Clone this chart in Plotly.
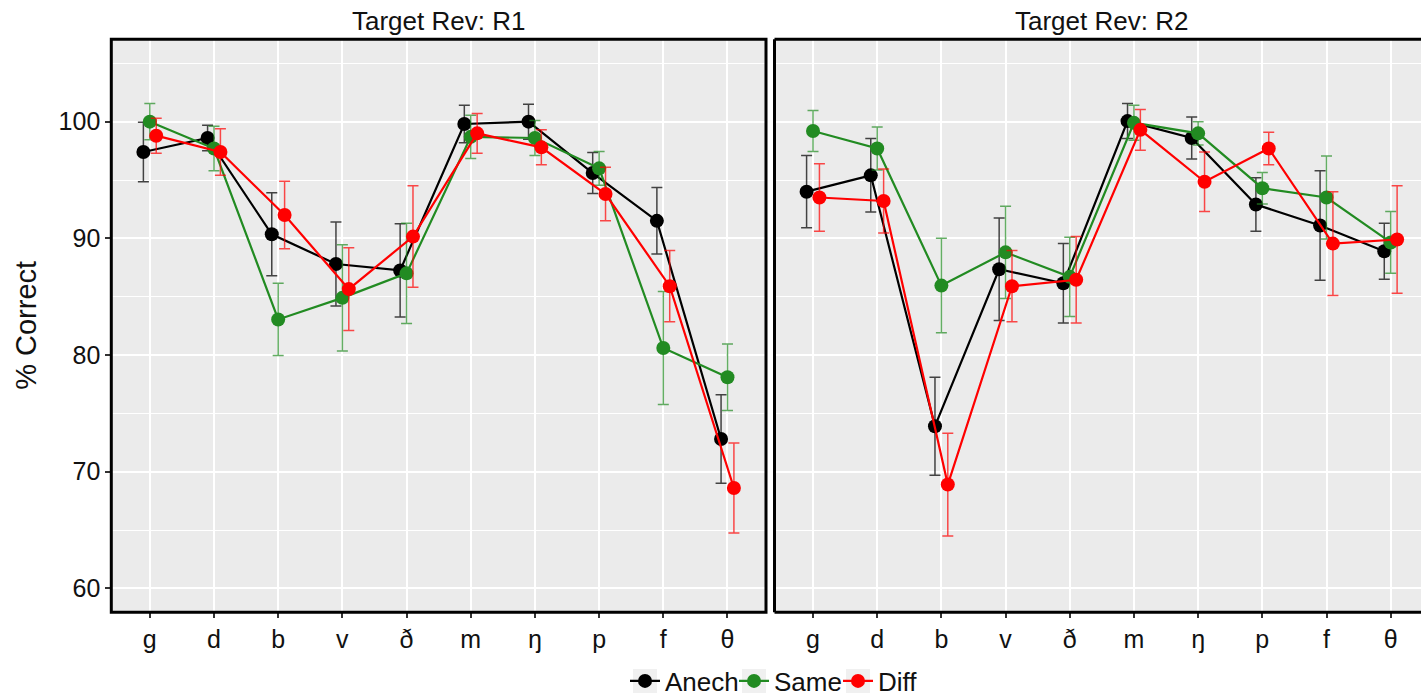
import numpy as np
import plotly.graph_objects as go

# ---------------- data ----------------
categories = ['g', 'd', 'b', 'v', 'ð', 'm', 'ŋ', 'p', 'f', 'θ']
panels = ['R1', 'R2']
series_names = ['Anech', 'Same', 'Diff']

# Target Rev: R1
r1_anech = [97.4, 98.6, 90.35, 87.8, 87.25, 99.8, 100.0, 95.6, 91.5, 72.8]
r1_anech_se = [2.55, 1.1, 3.55, 3.6, 4.0, 1.6, 1.5, 1.75, 2.85, 3.8]
r1_same = [100.0, 97.7, 83.05, 84.9, 87.0, 98.7, 98.6, 96.0, 80.6, 78.1]
r1_same_se = [1.55, 1.9, 3.1, 4.55, 4.3, 1.85, 1.5, 1.45, 4.85, 2.85]
r1_diff = [98.8, 97.4, 92.0, 85.65, 90.15, 99.0, 97.8, 93.8, 85.9, 68.6]
r1_diff_se = [1.5, 2.0, 2.9, 3.55, 4.35, 1.7, 1.5, 2.3, 3.05, 3.85]

# Target Rev: R2
r2_anech = [94.0, 95.4, 73.9, 87.35, 86.15, 100.05, 98.6, 92.9, 91.1, 88.9]
r2_anech_se = [3.1, 3.15, 4.2, 4.4, 3.4, 1.5, 1.8, 2.3, 4.7, 2.4]
r2_same = [99.2, 97.7, 85.95, 88.8, 86.7, 99.9, 99.0, 94.3, 93.5, 89.65]
r2_same_se = [1.75, 1.85, 4.05, 3.95, 3.4, 1.5, 1.0, 1.35, 3.55, 2.65]
r2_diff = [93.5, 93.2, 68.9, 85.9, 86.45, 99.3, 94.85, 97.7, 89.55, 89.9]
r2_diff_se = [2.9, 2.75, 4.4, 3.05, 3.7, 1.75, 2.55, 1.4, 4.45, 4.6]

y_ticks = [60, 70, 80, 90, 100]

# ---------------- style ----------------
W, H = 1421, 698
FONT = 'Liberation Sans, Arial, Helvetica, sans-serif'
colors = {'Anech': '#000000', 'Same': '#228B22', 'Diff': '#FF0000'}
err_colors = {'Anech': 'rgba(0,0,0,0.72)', 'Same': 'rgba(34,139,34,0.7)',
              'Diff': 'rgba(255,0,0,0.7)'}
dodge = {'Anech': -0.1, 'Same': 0.0, 'Diff': 0.1}

data = {
    'R1': {'Anech': (r1_anech, r1_anech_se), 'Same': (r1_same, r1_same_se),
           'Diff': (r1_diff, r1_diff_se)},
    'R2': {'Anech': (r2_anech, r2_anech_se), 'Same': (r2_same, r2_same_se),
           'Diff': (r2_diff, r2_diff_se)},
}

def px_x(p):
    return p / W

def px_y(p):
    return 1 - p / H

# panel geometry (pixels)
left_x0, left_x1 = 111.3, 766.0
unit = (left_x1 - left_x0) / 10.2
right_x0 = 774.5
right_end = 0.4 + (W - right_x0) / unit
y_top, y_bot = 39.3, 612.3
y_range = [57.95, 107.06]

fig = go.Figure()

pos = np.arange(1, len(categories) + 1)
legend_ids = {'Anech': 'legend', 'Same': 'legend2', 'Diff': 'legend3'}

for pi, panel in enumerate(panels):
    xa = 'x' if pi == 0 else 'x2'
    ya = 'y' if pi == 0 else 'y2'
    for s in series_names:
        vals, se = data[panel][s]
        fig.add_trace(go.Scatter(
            x=pos + dodge[s], y=vals, xaxis=xa, yaxis=ya,
            mode='lines+markers', name=s,
            line=dict(color=colors[s], width=2.2),
            marker=dict(color=colors[s], size=14, line=dict(width=0)),
            error_y=dict(type='data', array=se, visible=True,
                         color=err_colors[s], thickness=1.5, width=5.5),
            showlegend=(pi == 0), legend=legend_ids[s],
        ))

axis_common = dict(
    showgrid=True, gridcolor='white', gridwidth=1.5, zeroline=False,
    showline=False, ticklen=5, tickwidth=1.5, automargin=False,
    tickcolor='#333333', tickfont=dict(family=FONT, size=25, color='#111111'),
    fixedrange=True,
)
minor_grid = dict(tickmode='array', tickvals=[65, 75, 85, 95, 105],
                  showgrid=True, gridcolor='white', gridwidth=0.8, ticks='')

fig.update_layout(
    width=W, height=H,
    margin=dict(l=0, r=0, t=0, b=0, autoexpand=False),
    paper_bgcolor='white', plot_bgcolor='#EBEBEB',
    font=dict(family=FONT, color='#111111'),
    xaxis=dict(domain=[px_x(left_x0), px_x(left_x1)], range=[0.4, 10.6],
               tickmode='array', tickvals=list(pos), ticktext=categories,
               anchor='y', ticks='outside', **axis_common),
    xaxis2=dict(domain=[px_x(right_x0), 1.0], range=[0.4, right_end],
                tickmode='array', tickvals=list(pos), ticktext=categories,
                anchor='y2', ticks='outside', **axis_common),
    yaxis=dict(domain=[px_y(y_bot), px_y(y_top)], range=y_range,
               tickmode='array', tickvals=y_ticks,
               ticktext=[str(v) for v in y_ticks], anchor='x',
               ticks='outside', minor=minor_grid, **axis_common),
    yaxis2=dict(domain=[px_y(y_bot), px_y(y_top)], range=y_range,
                tickmode='array', tickvals=y_ticks, showticklabels=False,
                anchor='x2', ticks='', minor=minor_grid, **axis_common),
    showlegend=True,
)

# legends (one per series, laid out horizontally at bottom)
legend_sym_centers = {'Anech': 645, 'Same': 754, 'Diff': 858}
legend_y = 681
for s in series_names:
    key = legend_ids[s]
    fig.update_layout(**{key: dict(
        orientation='h', xref='container', yref='container',
        x=px_x(legend_sym_centers[s] - 20), xanchor='left',
        y=px_y(legend_y), yanchor='middle', bgcolor='rgba(0,0,0,0)',
        font=dict(family=FONT, size=26, color='#111111'),
        itemclick=False, itemdoubleclick=False,
    )})
    # grey key background
    c = legend_sym_centers[s]
    fig.add_shape(type='rect', xref='paper', yref='paper',
                  x0=px_x(c - 12), x1=px_x(c + 12),
                  y0=px_y(legend_y + 12), y1=px_y(legend_y - 12),
                  fillcolor='#F0F0F0', line=dict(width=0), layer='below')

# panel borders
fig.add_shape(type='rect', xref='x domain', yref='y domain', x0=0, x1=1,
              y0=0, y1=1, line=dict(color='black', width=3), layer='above')
for (x0, y0, x1, y1) in [(0, 0, 0, 1), (0, 0, 1, 0), (0, 1, 1, 1)]:
    fig.add_shape(type='line', xref='x2 domain', yref='y2 domain',
                  x0=x0, y0=y0, x1=x1, y1=y1,
                  line=dict(color='black', width=3), layer='above')

# strip titles
strip_centers = {'R1': (left_x0 + left_x1) / 2,
                 'R2': right_x0 + 10.2 * unit / 2}
for panel in panels:
    fig.add_annotation(text=f'Target Rev: {panel}', xref='paper', yref='paper',
                       x=px_x(strip_centers[panel]), y=px_y(21),
                       xanchor='center', yanchor='middle', showarrow=False,
                       font=dict(family=FONT, size=26, color='#111111'))

# y-axis title
fig.add_annotation(text='% Correct', xref='paper', yref='paper',
                   x=px_x(26), y=px_y((y_top + y_bot) / 2), textangle=-90,
                   xanchor='center', yanchor='middle', showarrow=False,
                   font=dict(family=FONT, size=29, color='#111111'))

fig.write_html('out.html',
               config={'displayModeBar': False, 'staticPlot': False},
               post_script="document.body.style.margin='0px';"
                           "document.body.style.overflow='hidden';")
